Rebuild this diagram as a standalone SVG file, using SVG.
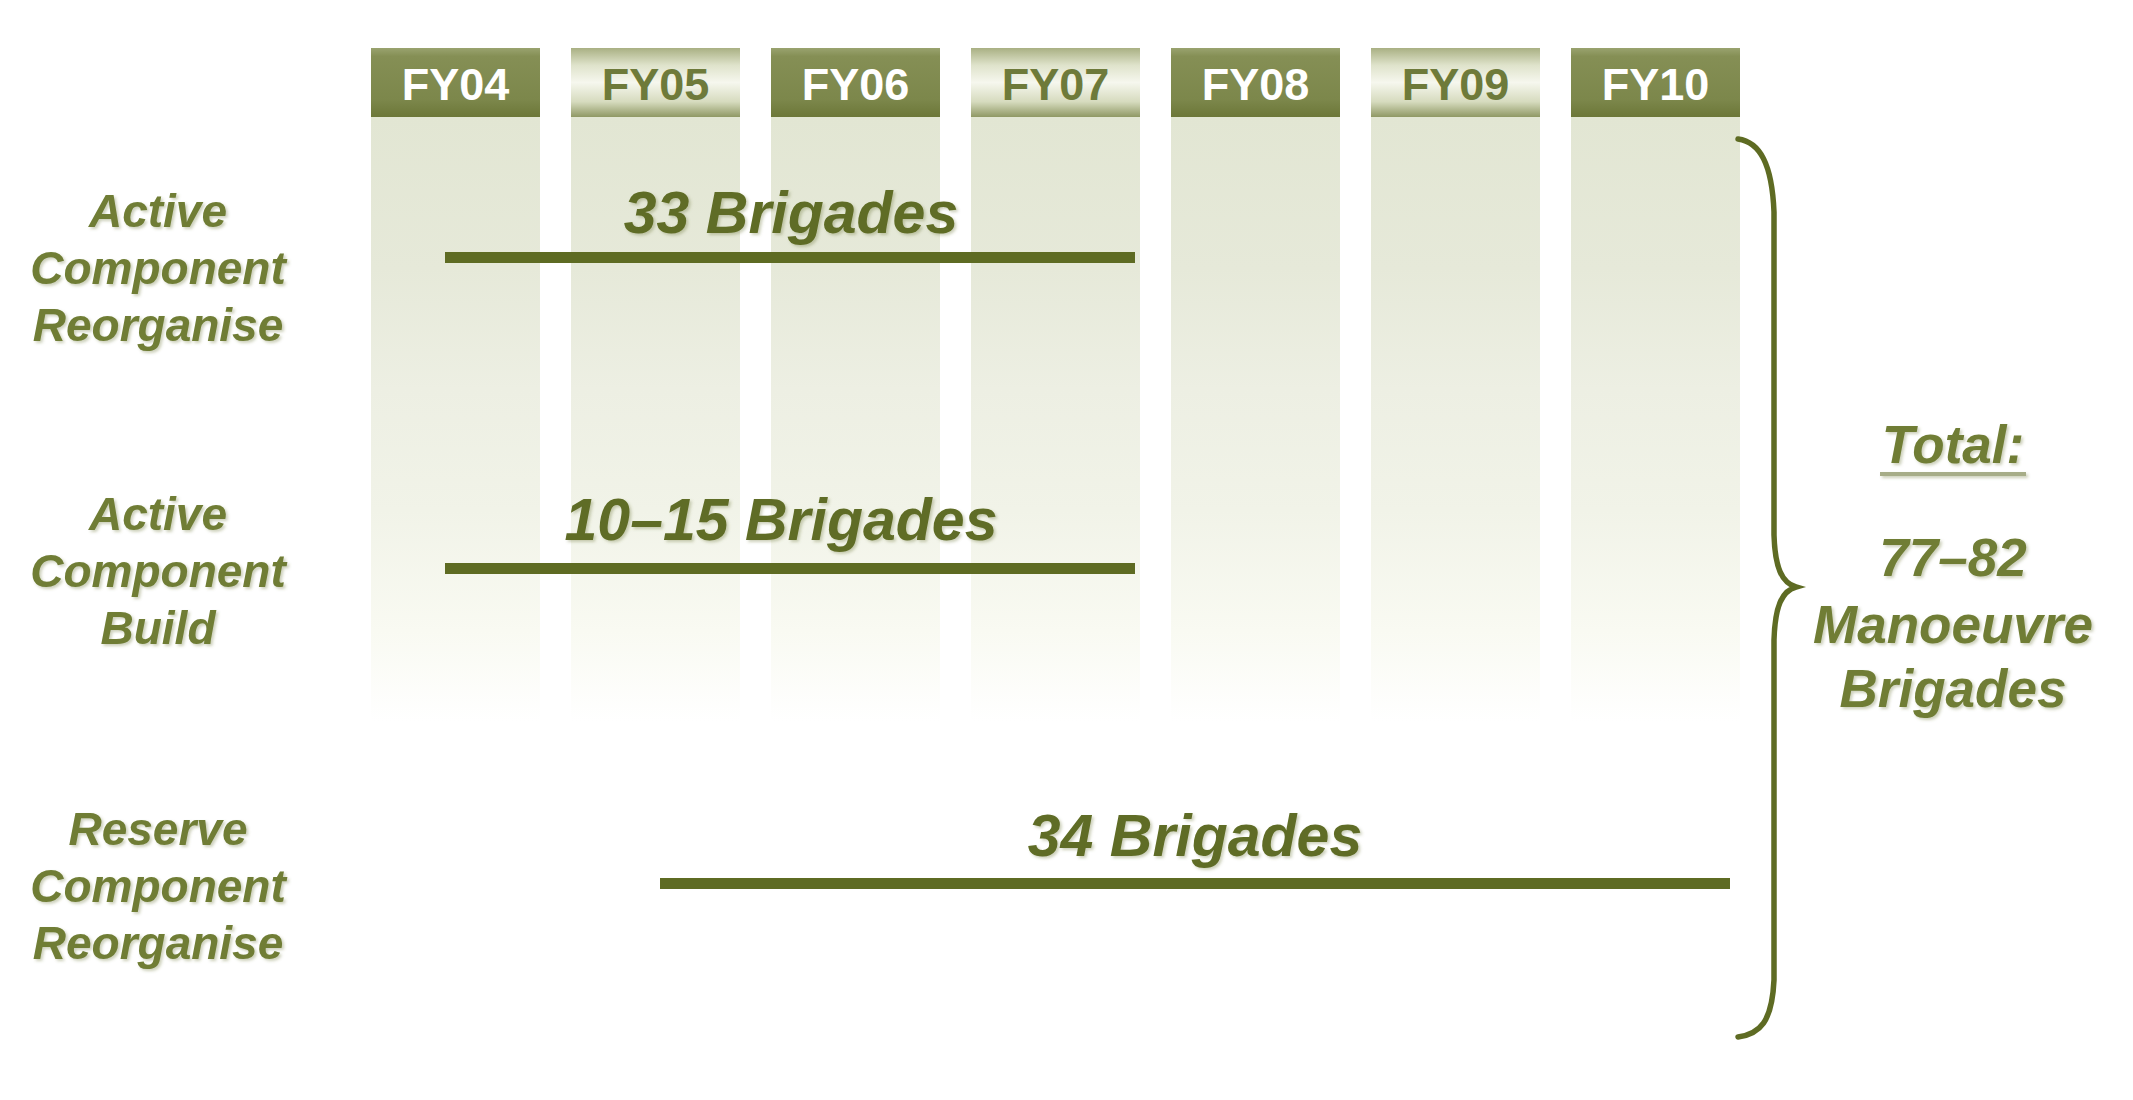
<svg xmlns="http://www.w3.org/2000/svg" width="2133" height="1100" viewBox="0 0 2133 1100">
<style>
.hdrtxt{font-family:"Liberation Sans",Arial,sans-serif;font-weight:bold;font-size:45px;text-anchor:middle}
.hd{fill:#ffffff}
.hl{fill:#6e7a3a}
.lbl{font-family:"Liberation Sans",Arial,sans-serif;font-weight:bold;font-style:italic;font-size:46px;fill:#6f7d35;text-anchor:middle}
.big{font-family:"Liberation Sans",Arial,sans-serif;font-weight:bold;font-style:italic;font-size:59px;fill:#5f6c25;text-anchor:middle}
.tot{font-family:"Liberation Sans",Arial,sans-serif;font-weight:bold;font-style:italic;font-size:53px;fill:#6f7d35;text-anchor:middle}
.bar{fill:#5e6b23}
.col{fill:url(#colg)}
</style>
<defs>
<linearGradient id="darkg" x1="0" y1="0" x2="0" y2="1">
<stop offset="0" stop-color="#9aa36f"/>
<stop offset="0.12" stop-color="#858f55"/>
<stop offset="0.75" stop-color="#7c874b"/>
<stop offset="1" stop-color="#6c7738"/>
</linearGradient>
<linearGradient id="lightg" x1="0" y1="0" x2="0" y2="1">
<stop offset="0" stop-color="#a9b083"/>
<stop offset="0.25" stop-color="#dfe3cb"/>
<stop offset="0.5" stop-color="#f6f7ee"/>
<stop offset="0.78" stop-color="#d6dbbe"/>
<stop offset="1" stop-color="#8f9864"/>
</linearGradient>
<linearGradient id="colg" x1="0" y1="0" x2="0" y2="1">
<stop offset="0" stop-color="#e2e6d3"/>
<stop offset="0.25" stop-color="#e6e9d9"/>
<stop offset="0.45" stop-color="#edefe3"/>
<stop offset="0.65" stop-color="#f1f3e8"/>
<stop offset="0.85" stop-color="#f9faf2"/>
<stop offset="1" stop-color="#ffffff"/>
</linearGradient>
<filter id="sh" x="-10%" y="-10%" width="120%" height="130%">
<feDropShadow dx="2" dy="2" stdDeviation="1.5" flood-color="#6e7a3a" flood-opacity="0.35"/>
</filter>
</defs>
<rect width="2133" height="1100" fill="#ffffff"/>

<g id="columns">
<rect class="col" x="371" y="117" width="169" height="605"/>
<rect class="col" x="571" y="117" width="169" height="605"/>
<rect class="col" x="771" y="117" width="169" height="605"/>
<rect class="col" x="971" y="117" width="169" height="605"/>
<rect class="col" x="1171" y="117" width="169" height="605"/>
<rect class="col" x="1371" y="117" width="169" height="605"/>
<rect class="col" x="1571" y="117" width="169" height="605"/>
</g>

<g id="fy04"><rect x="371" y="48" width="169" height="69" fill="url(#darkg)"/><text class="hdrtxt hd" x="455.5" y="100">FY04</text></g>
<g id="fy05"><rect x="571" y="48" width="169" height="69" fill="url(#lightg)"/><text class="hdrtxt hl" x="655.5" y="100">FY05</text></g>
<g id="fy06"><rect x="771" y="48" width="169" height="69" fill="url(#darkg)"/><text class="hdrtxt hd" x="855.5" y="100">FY06</text></g>
<g id="fy07"><rect x="971" y="48" width="169" height="69" fill="url(#lightg)"/><text class="hdrtxt hl" x="1055.5" y="100">FY07</text></g>
<g id="fy08"><rect x="1171" y="48" width="169" height="69" fill="url(#darkg)"/><text class="hdrtxt hd" x="1255.5" y="100">FY08</text></g>
<g id="fy09"><rect x="1371" y="48" width="169" height="69" fill="url(#lightg)"/><text class="hdrtxt hl" x="1455.5" y="100">FY09</text></g>
<g id="fy10"><rect x="1571" y="48" width="169" height="69" fill="url(#darkg)"/><text class="hdrtxt hd" x="1655.5" y="100">FY10</text></g>

<g id="label-acr" filter="url(#sh)">
<text class="lbl" x="158" y="227">Active</text>
<text class="lbl" x="158" y="284">Component</text>
<text class="lbl" x="158" y="341">Reorganise</text>
</g>
<g id="label-acb" filter="url(#sh)">
<text class="lbl" x="158" y="530">Active</text>
<text class="lbl" x="158" y="587">Component</text>
<text class="lbl" x="158" y="644">Build</text>
</g>
<g id="label-rcr" filter="url(#sh)">
<text class="lbl" x="158" y="845">Reserve</text>
<text class="lbl" x="158" y="902">Component</text>
<text class="lbl" x="158" y="959">Reorganise</text>
</g>

<g id="connectors">
<rect class="bar" x="445" y="252" width="690" height="11"/>
<rect class="bar" x="445" y="563" width="690" height="11"/>
<rect class="bar" x="660" y="878" width="1070" height="11"/>
<path d="M1738,139 C1760,142 1772,164 1774,212 L1774,535 C1775,568 1782,583 1796,587 C1782,591 1775,606 1774,640 L1774,980 C1772,1022 1760,1034 1738,1037" fill="none" stroke="#5e6b23" stroke-width="5.5" stroke-linecap="round"/>
</g>

<g id="bar-33" filter="url(#sh)"><text class="big" x="791" y="233">33 Brigades</text></g>
<g id="bar-1015" filter="url(#sh)"><text class="big" x="781" y="540">10–15 Brigades</text></g>
<g id="bar-34" filter="url(#sh)"><text class="big" x="1195" y="856">34 Brigades</text></g>

<g id="total" filter="url(#sh)">
<text class="tot" x="1953" y="463">Total:</text>
<rect x="1880" y="472" width="146" height="4" fill="#a7ad88"/>
<text class="tot" x="1953" y="576">77–82</text>
<text class="tot" x="1953" y="643">Manoeuvre</text>
<text class="tot" x="1953" y="707">Brigades</text>
</g>
</svg>
